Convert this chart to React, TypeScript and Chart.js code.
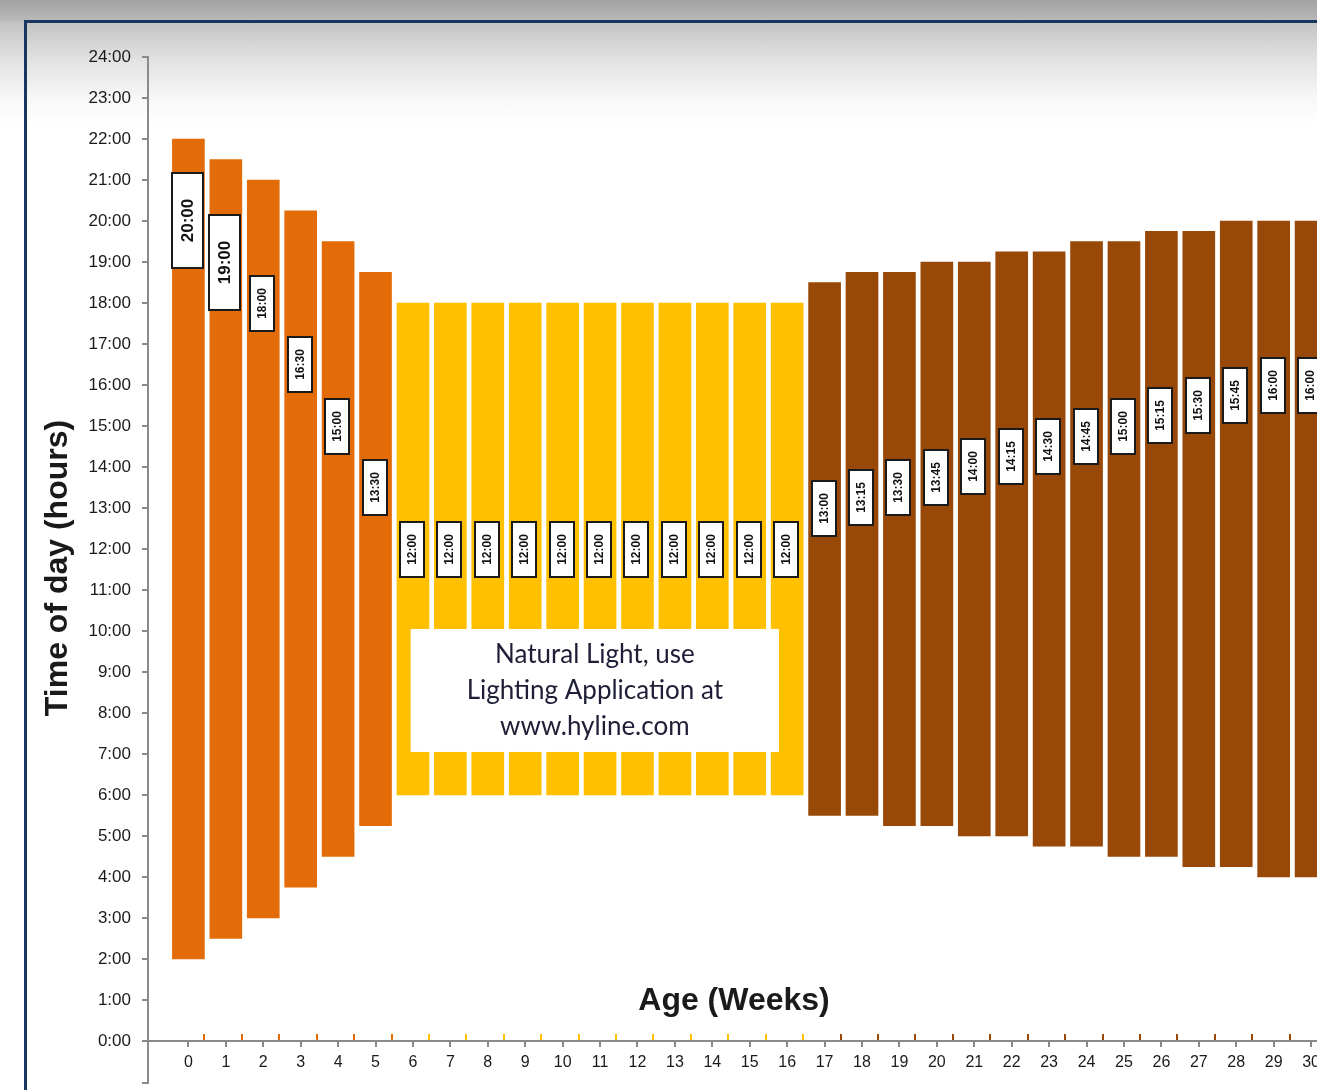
import { useEffect, useRef } from 'react';
import { Chart, registerables } from 'chart.js';

Chart.register(...registerables);

// Age in weeks
const weeks = [0, 1, 2, 3, 4, 5, 6, 7, 8, 9, 10, 11, 12, 13, 14, 15, 16, 17, 18, 19, 20, 21, 22, 23, 24, 25, 26, 27, 28, 29, 30];
// Lights on (hours, decimal)
const lightsOn = [2, 2.5, 3, 3.75, 4.5, 5.25, 6, 6, 6, 6, 6, 6, 6, 6, 6, 6, 6, 5.5, 5.5, 5.25, 5.25, 5, 5, 4.75, 4.75, 4.5, 4.5, 4.25, 4.25, 4, 4];
// Lights off (hours, decimal)
const lightsOff = [22, 21.5, 21, 20.25, 19.5, 18.75, 18, 18, 18, 18, 18, 18, 18, 18, 18, 18, 18, 18.5, 18.75, 18.75, 19, 19, 19.25, 19.25, 19.5, 19.5, 19.75, 19.75, 20, 20, 20];
// Phase of each week: 0 = brooding, 1 = natural light, 2 = production
const phase = [0, 0, 0, 0, 0, 0, 1, 1, 1, 1, 1, 1, 1, 1, 1, 1, 1, 2, 2, 2, 2, 2, 2, 2, 2, 2, 2, 2, 2, 2, 2];
const phaseColors = ['#E36C09', '#FFC000', '#984807'];
// Hour ticks
const hourTicks = [0, 1, 2, 3, 4, 5, 6, 7, 8, 9, 10, 11, 12, 13, 14, 15, 16, 17, 18, 19, 20, 21, 22, 23, 24];
const noteLines = ['Natural Light, use', 'Lighting Application at', 'www.hyline.com'];
const yTitle = 'Time of day (hours)';
const xTitle = 'Age (Weeks)';

const fmt = (d: number) => {
  const h = Math.floor(d + 1e-9);
  const m = Math.round((d - h) * 60);
  return `${h}:${String(m).padStart(2, '0')}`;
};

const FONT = "'Liberation Sans', Arial, sans-serif";

const overlayPlugin = {
  id: 'overlay',
  afterDatasetsDraw(chart: any) {
    const { ctx } = chart;
    const xs = chart.scales.x;
    const ys = chart.scales.y;
    const meta = chart.getDatasetMeta(0);
    const axisY = Math.round(ys.getPixelForValue(0));

    // small colored ticks above the axis at the right edge of bars
    meta.data.forEach((bar: any, i: number) => {
      const props = bar.getProps(['x', 'width'], true);
      ctx.save();
      ctx.fillStyle = phaseColors[phase[i]];
      const px = Math.round(props.x + props.width / 2) - 1;
      ctx.fillRect(px, axisY - 7, 2, 6);
      ctx.restore();
    });

    // note box
    const bx1 = xs.getPixelForValue(5.94);
    const bx2 = xs.getPixelForValue(15.78);
    const by1 = ys.getPixelForValue(10.05);
    const by2 = ys.getPixelForValue(7.05);
    ctx.save();
    ctx.fillStyle = '#ffffff';
    ctx.fillRect(bx1, by1, bx2 - bx1, by2 - by1);
    ctx.fillStyle = '#1e1e36';
    ctx.font = "26px Lato, 'Open Sans', sans-serif";
    ctx.textAlign = 'center';
    ctx.textBaseline = 'middle';
    const cx = (bx1 + bx2) / 2;
    noteLines.forEach((t, k) => ctx.fillText(t, cx, by1 + 26 + k * 36));
    ctx.restore();

    // duration labels
    meta.data.forEach((bar: any, i: number) => {
      const props = bar.getProps(['x'], true);
      const dur = lightsOff[i] - lightsOn[i];
      const big = i <= 1;
      const w = big ? 31 : 24;
      const h = big ? 95 : 55;
      const cy = ys.getPixelForValue(dur);
      const x0 = Math.round(props.x - w / 2) - 1;
      const y0 = Math.round(cy - h / 2);
      ctx.save();
      ctx.fillStyle = '#ffffff';
      ctx.fillRect(x0, y0, w, h);
      ctx.strokeStyle = '#1a1a1a';
      ctx.lineWidth = 2;
      ctx.strokeRect(x0, y0, w, h);
      ctx.translate(x0 + w / 2 + 1, y0 + h / 2);
      ctx.rotate(-Math.PI / 2);
      ctx.fillStyle = '#111';
      ctx.font = big ? `bold 17px ${FONT}` : `bold 12px ${FONT}`;
      ctx.textAlign = 'center';
      ctx.textBaseline = 'middle';
      ctx.fillText(fmt(dur), 0, 0);
      ctx.restore();
    });
  },
  afterDraw(chart: any) {
    const { ctx, chartArea } = chart;
    ctx.save();
    // axis extension below
    ctx.strokeStyle = '#8a8a8a';
    ctx.lineWidth = 2;
    ctx.beginPath();
    ctx.moveTo(chartArea.left, chartArea.bottom);
    ctx.lineTo(chartArea.left, chartArea.bottom + 42);
    ctx.lineTo(chartArea.left - 6, chartArea.bottom + 42);
    ctx.stroke();

    ctx.fillStyle = '#1a1a1a';
    ctx.font = `bold 32px ${FONT}`;
    ctx.textAlign = 'center';
    ctx.textBaseline = 'middle';
    ctx.fillText(xTitle, 734, 1001);

    ctx.translate(58, 568);
    ctx.rotate(-Math.PI / 2);
    ctx.fillText(yTitle, 0, 0);
    ctx.restore();
  },
};

export default function App() {
  const ref = useRef<HTMLCanvasElement>(null);

  useEffect(() => {
    if (!ref.current) return;
    const chart = new Chart(ref.current, {
      type: 'bar',
      data: {
        datasets: [
          {
            data: weeks.map((w, i) => ({ x: w, y: [lightsOn[i], lightsOff[i]] })) as any,
            backgroundColor: weeks.map((_, i) => phaseColors[phase[i]]),
            borderWidth: 0,
            barThickness: 32,
          },
        ],
      },
      options: {
        animation: false,
        responsive: false,
        devicePixelRatio: 1,
        layout: { padding: { top: 57, right: 51.5, bottom: 0, left: 0 } },
        plugins: { legend: { display: false }, tooltip: { enabled: false } },
        scales: {
          x: {
            type: 'linear',
            min: -1.08,
            max: 31,
            offset: false,
            afterFit: (s: any) => {
              s.height = 49;
            },
            afterBuildTicks: (s: any) => {
              s.ticks = weeks.map((w) => ({ value: w }));
            },
            ticks: {
              autoSkip: false,
              maxRotation: 0,
              padding: 6,
              color: '#1a1a1a',
              font: { family: FONT, size: 16 },
              callback: (v: any) => String(v),
            },
            grid: { offset: false, drawOnChartArea: false, drawTicks: true, tickLength: 6, color: '#8a8a8a', lineWidth: 2 },
            border: { color: '#8a8a8a', width: 2 },
          },
          y: {
            min: 0,
            max: 24,
            afterFit: (s: any) => {
              s.width = 148;
            },
            afterBuildTicks: (s: any) => {
              s.ticks = hourTicks.map((h) => ({ value: h }));
            },
            ticks: {
              padding: 11,
              color: '#1a1a1a',
              font: { family: FONT, size: 17 },
              callback: (v: any) => `${v}:00`,
            },
            grid: { drawOnChartArea: false, drawTicks: true, tickLength: 6, color: '#8a8a8a', lineWidth: 2 },
            border: { color: '#8a8a8a', width: 2 },
          },
        },
      },
      plugins: [overlayPlugin],
    });
    return () => chart.destroy();
  }, []);

  return (
    <div
      style={{
        position: 'fixed',
        left: 0,
        top: 0,
        width: 1317,
        height: 1090,
        overflow: 'hidden',
        background: 'linear-gradient(to bottom, #a2a2a2 0px, #b8b8b8 20px, #c4c4c4 23px, #e2e2e2 60px, #f8f8f8 100px, #ffffff 125px)',
      }}
    >
      <div
        style={{
          position: 'absolute',
          left: 24,
          top: 20,
          right: -10,
          bottom: -10,
          borderTop: '3px solid #17375E',
          borderLeft: '3px solid #17375E',
        }}
      />
      <canvas ref={ref} width={1400} height={1090} style={{ position: 'absolute', left: 0, top: 0 }} />
    </div>
  );
}
